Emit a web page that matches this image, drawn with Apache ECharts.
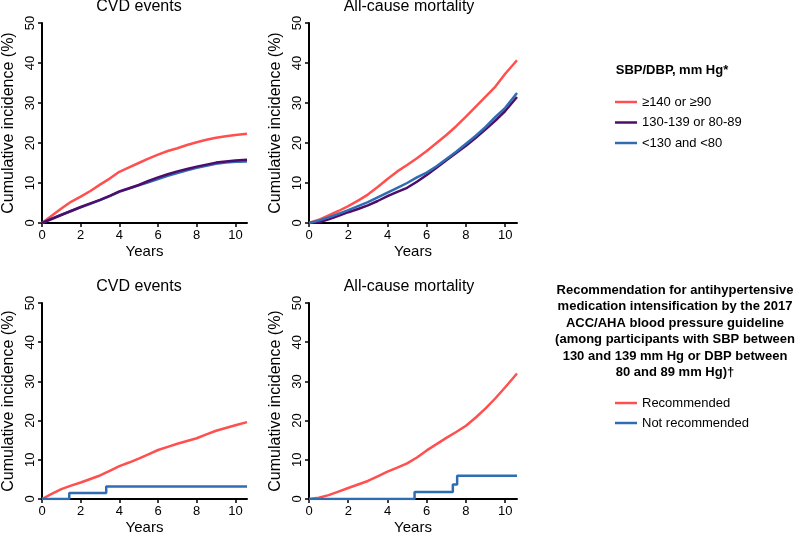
<!DOCTYPE html>
<html>
<head>
<meta charset="utf-8">
<script src="https://cdn.jsdelivr.net/npm/echarts@6/dist/echarts.min.js"></script>
<style>
html, body { margin: 0; padding: 0; background: #fff; }
#chart { width: 800px; height: 536px; }
</style>
</head>
<body>
<div id="chart"></div>
<script>
// follow-up years shared by the smooth-ish curves
const years = [0, 0.5, 1, 1.5, 2, 2.5, 3, 3.5, 4, 4.5, 5, 5.5, 6, 6.5, 7, 7.5, 8, 8.5, 9, 9.5, 10, 10.6];

// top row: SBP/DBP groups
const cvdHigh  = [0, 1.8, 3.6, 5.3, 6.6, 8.0, 9.6, 11.1, 12.8, 13.9, 15.0, 16.1, 17.1, 18.0, 18.7, 19.5, 20.2, 20.8, 21.3, 21.7, 22.0, 22.3];
const cvdMid   = [0, 1.0, 2.0, 3.0, 4.0, 4.9, 5.8, 6.8, 7.9, 8.7, 9.5, 10.5, 11.4, 12.2, 12.9, 13.5, 14.1, 14.6, 15.1, 15.4, 15.6, 15.8];
const cvdLow   = [0, 1.1, 2.1, 3.0, 3.9, 4.8, 5.7, 6.7, 7.8, 8.6, 9.4, 10.2, 11.0, 11.8, 12.5, 13.2, 13.8, 14.3, 14.8, 15.1, 15.3, 15.4];
const mortHigh = [0, 0.8, 1.9, 3.0, 4.2, 5.6, 7.1, 9.0, 11.0, 12.9, 14.5, 16.2, 18.0, 20.0, 22.0, 24.2, 26.6, 29.1, 31.6, 34.1, 37.3, 40.7];
const mortMid  = [0, 0.2, 0.9, 1.8, 2.7, 3.5, 4.4, 5.5, 6.7, 7.8, 8.8, 10.3, 12.0, 13.8, 15.7, 17.5, 19.3, 21.3, 23.4, 25.6, 28.0, 31.5];
const mortLow  = [0, 0.6, 1.4, 2.3, 3.2, 4.2, 5.2, 6.4, 7.6, 8.8, 10.0, 11.4, 12.6, 14.2, 16.0, 17.8, 19.8, 21.8, 24.0, 26.5, 28.8, 32.5];

// bottom row: recommended vs not recommended
const cvdRec  = [0, 1.3, 2.5, 3.4, 4.2, 5.1, 6.0, 7.2, 8.4, 9.3, 10.3, 11.4, 12.5, 13.3, 14.1, 14.8, 15.5, 16.5, 17.4, 18.1, 18.8, 19.6];
const mortRec = [0, 0.3, 1.0, 1.9, 2.8, 3.7, 4.6, 5.8, 7.0, 8.0, 9.1, 10.6, 12.4, 14.0, 15.6, 17.1, 18.7, 20.8, 23.1, 25.7, 28.5, 32.0];
// step curves (event times and levels)
const cvdNotRecYears  = [0, 1.41, 3.32, 10.6];
const cvdNotRecVals   = [0, 1.5, 3.2, 3.2];
const mortNotRecYears = [0, 5.38, 7.33, 7.55, 10.6];
const mortNotRecVals  = [0, 1.8, 3.7, 5.9, 5.9];

const xTicks = [0, 2, 4, 6, 8, 10];
const groupNames = ["≥140 or ≥90", "130-139 or 80-89", "<130 and <80"];
const recNames = ["Recommended", "Not recommended"];
const panelTitles = ["CVD events", "All-cause mortality", "CVD events", "All-cause mortality"];

const RED = "#ff5050";
const PURPLE = "#4e0c6c";
const BLUE = "#2f6db3";
const FONT = '"Liberation Sans", Arial, sans-serif';

const pair = (xs, ys) => xs.map((x, i) => [x, ys[i]]);

const grids = [
    { left: 39, top: 23, width: 208, height: 200 },
    { left: 309, top: 23, width: 208, height: 200 },
    { left: 39, top: 303, width: 208, height: 200 },
    { left: 309, top: 303, width: 208, height: 200 },
];

function xAxisFor(i) {
    return {
        gridIndex: i,
        type: "value",
        min: 0,
        max: 10.6,
        name: "Years",
        nameLocation: "middle",
        nameGap: 21,
        nameTextStyle: { color: "#000", fontSize: 15, fontFamily: FONT },
        splitLine: { show: false },
        axisLine: { onZero: false, lineStyle: { color: "#000", width: 2 } },
        axisTick: { length: 4, lineStyle: { color: "#000", width: 1.5 }, customValues: xTicks },
        axisLabel: { color: "#000", fontSize: 13, fontFamily: FONT, margin: 6, customValues: xTicks },
    };
}

function yAxisFor(i) {
    return {
        gridIndex: i,
        type: "value",
        min: 0,
        max: 50,
        interval: 10,
        name: "Cumulative incidence (%)",
        nameLocation: "middle",
        nameGap: 25,
        nameTextStyle: { color: "#000", fontSize: 16, fontFamily: FONT },
        splitLine: { show: false },
        axisLine: { show: true, lineStyle: { color: "#000", width: 2 } },
        axisTick: { show: true, length: 4, lineStyle: { color: "#000", width: 1.5 } },
        axisLabel: { color: "#000", fontSize: 13, fontFamily: FONT, rotate: 90, margin: 5 },
    };
}

function line(name, idx, data, color, step) {
    return {
        name: name,
        type: "line",
        xAxisIndex: idx,
        yAxisIndex: idx,
        data: data,
        step: step || false,
        showSymbol: false,
        color: color,
        lineStyle: { color: color, width: 2.5 },
        z: 3,
    };
}

const series = [
    line(groupNames[0], 0, pair(years, cvdHigh), RED),
    line(groupNames[2], 0, pair(years, cvdLow), BLUE),
    line(groupNames[1], 0, pair(years, cvdMid), PURPLE),
    line(groupNames[0], 1, pair(years, mortHigh), RED),
    line(groupNames[1], 1, pair(years, mortMid), PURPLE),
    line(groupNames[2], 1, pair(years, mortLow), BLUE),
    line(recNames[0], 2, pair(years, cvdRec), RED),
    line(recNames[1], 2, pair(cvdNotRecYears, cvdNotRecVals), BLUE, "end"),
    line(recNames[0], 3, pair(years, mortRec), RED),
    line(recNames[1], 3, pair(mortNotRecYears, mortNotRecVals), BLUE, "end"),
];

const titleY = [7, 7, 287, 287];
const graphics = panelTitles.map((t, i) => ({
    type: "text",
    x: grids[i].left + 100,
    y: titleY[i],
    style: {
        text: t, fill: "#000", font: "16px " + FONT,
        align: "center", verticalAlign: "middle", textAlign: "center", textVerticalAlign: "middle",
    },
}));
graphics.push({
    type: "text",
    x: 672,
    y: 70,
    style: {
        text: "SBP/DBP, mm Hg*", fill: "#000", font: "bold 13px " + FONT,
        align: "center", verticalAlign: "middle", textAlign: "center", textVerticalAlign: "middle",
    },
});
graphics.push({
    type: "text",
    x: 675,
    y: 282,
    style: {
        text: "Recommendation for antihypertensive\nmedication intensification by the 2017\nACC/AHA blood pressure guideline\n(among participants with SBP between\n130 and 139 mm Hg or DBP between\n80 and 89 mm Hg)†",
        fill: "#000", font: "bold 13px " + FONT, lineHeight: 16.5,
        align: "center", verticalAlign: "top", textAlign: "center", textVerticalAlign: "top",
    },
});

const legendBase = {
    orient: "vertical",
    icon: "rect",
    padding: 0,
    itemWidth: 22,
    itemHeight: 2.5,
    itemGap: 5.5,
    selectedMode: false,
    textStyle: { color: "#000", fontSize: 13, fontFamily: FONT, lineHeight: 15 },
};

const option = {
    animation: false,
    backgroundColor: "#fff",
    grid: grids,
    xAxis: grids.map((g, i) => xAxisFor(i)),
    yAxis: grids.map((g, i) => yAxisFor(i)),
    legend: [
        Object.assign({}, legendBase, { left: 615, top: 94.5, data: groupNames }),
        Object.assign({}, legendBase, { left: 615, top: 395.5, itemGap: 5, data: recNames }),
    ],
    graphic: graphics,
    series: series,
};

const chart = echarts.init(document.getElementById("chart"));
chart.setOption(option);
</script>
</body>
</html>
